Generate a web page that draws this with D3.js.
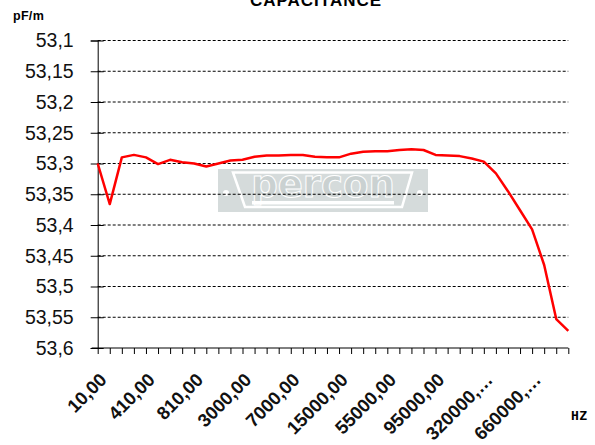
<!DOCTYPE html>
<html>
<head>
<meta charset="utf-8">
<script src="https://cdn.jsdelivr.net/npm/d3@7"></script>
<style>
  body { margin: 0; background: #fff; }
  svg { display: block; font-family: "Liberation Sans", Arial, sans-serif; }
</style>
</head>
<body>
<svg width="595" height="445"></svg>
<script>
// frequencies (Hz), one per point on the category axis
const freqs = [
  "10,00", "110,00", "210,00", "310,00", "410,00", "510,00", "610,00", "710,00",
  "810,00", "910,00", "1000,00", "2000,00", "3000,00", "4000,00", "5000,00", "6000,00",
  "7000,00", "8000,00", "9000,00", "10000,00", "15000,00", "25000,00", "35000,00", "45000,00",
  "55000,00", "65000,00", "75000,00", "85000,00", "95000,00", "100000,00", "120000,00", "220000,00",
  "320000,00", "420000,00", "520000,00", "620000,00", "660000,00", "760000,00", "860000,00", "1000000,00"
];
// capacitance pF/m
const capacitance = [
  53.300, 53.366, 53.290, 53.286, 53.290, 53.301, 53.294, 53.298,
  53.300, 53.305, 53.300, 53.295, 53.294, 53.289, 53.287, 53.287,
  53.286, 53.286, 53.289, 53.290, 53.290, 53.284, 53.281, 53.280,
  53.280, 53.278, 53.277, 53.278, 53.286, 53.287, 53.288, 53.292,
  53.297, 53.316, 53.345, 53.376, 53.407, 53.465, 53.553, 53.572
];
const yTicks = [53.1, 53.15, 53.2, 53.25, 53.3, 53.35, 53.4, 53.45, 53.5, 53.55, 53.6];

const plotLeft = 97.7, plotRight = 568.3, plotTop = 40.5, plotBottom = 348;
const svg = d3.select("svg");

const x = d3.scalePoint().domain(freqs).range([plotLeft, plotRight]);
const y = d3.scaleLinear().domain([53.1, 53.6]).range([plotTop, plotBottom]);

const fmt = v => String(+v.toFixed(2)).replace(".", ",");

// watermark logo behind the plot
const wm = svg.append("g");
wm.append("rect").attr("x", 218).attr("y", 169).attr("width", 210).attr("height", 43)
  .attr("fill", "#d5dbdb");
wm.append("path")
  .attr("d", "M233,172.5 L412,172.5 L402,207 L245,207 Z")
  .attr("fill", "none").attr("stroke", "#fff").attr("stroke-width", 2.5);
wm.append("circle").attr("cx", 226).attr("cy", 193).attr("r", 3).attr("fill", "#fff");
wm.append("circle").attr("cx", 420).attr("cy", 193).attr("r", 3).attr("fill", "#fff");
wm.append("text").attr("x", 323).attr("y", 197).attr("text-anchor", "middle")
  .attr("font-family", "DejaVu Sans, sans-serif")
  .attr("font-size", 37).attr("font-weight", "bold")
  .attr("fill", "#cad1d1").attr("stroke", "#fff").attr("stroke-width", 1)
  .text("percon");
wm.append("rect").attr("x", 252).attr("y", 201).attr("width", 142).attr("height", 3.5)
  .attr("fill", "#fff");

// gridlines
svg.append("g")
  .selectAll("line")
  .data(yTicks.slice(0, -1))
  .join("line")
  .attr("x1", plotLeft).attr("x2", plotRight)
  .attr("y1", d => y(d)).attr("y2", d => y(d))
  .attr("stroke", "#000").attr("stroke-width", 1).attr("stroke-dasharray", "3,2");

// y axis
const yAxis = svg.append("g")
  .attr("transform", `translate(${plotLeft},0)`)
  .call(d3.axisLeft(y).tickValues(yTicks).tickSize(7).tickPadding(17).tickFormat(fmt));
yAxis.select(".domain").attr("stroke", "#000");
yAxis.selectAll(".tick line").attr("x2", 6).attr("x1", -7).attr("stroke", "#000");
yAxis.selectAll("text").attr("font-size", 19.5).attr("fill", "#111")
  .attr("font-family", "Liberation Sans, Arial, sans-serif");

// x axis
const xAxis = svg.append("g")
  .attr("transform", `translate(0,${plotBottom})`)
  .call(d3.axisBottom(x).tickSize(6).tickFormat(""));
xAxis.select(".domain").attr("d", `M${plotLeft - 6},0H${plotRight}`).attr("stroke", "#000");
xAxis.selectAll(".tick line").attr("stroke", "#000");

// x labels, every fourth category, rotated
svg.append("g")
  .selectAll("text")
  .data(freqs.filter((d, i) => i % 4 === 0))
  .join("text")
  .attr("transform", d => `translate(${x(d) + 10},381) rotate(-45)`)
  .attr("text-anchor", "end")
  .attr("font-size", 18.5)
  .attr("font-weight", "bold")
  .attr("fill", "#111")
  .text(d => d.length > 8 ? d.slice(0, 7) + "…" : d);

// data line
svg.append("path")
  .datum(capacitance)
  .attr("fill", "none")
  .attr("stroke", "#ff0000")
  .attr("stroke-width", 2.5)
  .attr("stroke-linejoin", "round")
  .attr("d", d3.line().x((d, i) => x(freqs[i])).y(d => y(d)));

// titles
svg.append("text").attr("x", 316).attr("y", 5.5).attr("text-anchor", "middle")
  .attr("font-size", 17).attr("font-weight", "bold").attr("letter-spacing", 1)
  .text("CAPACITANCE");
svg.append("text").attr("x", 13).attr("y", 20)
  .attr("font-size", 12.5).attr("font-weight", "bold").attr("letter-spacing", 0.3)
  .text("pF/m");
svg.append("text").attr("x", 571).attr("y", 420)
  .attr("font-family", "DejaVu Sans Mono, monospace")
  .attr("font-size", 13).attr("font-weight", "bold").attr("letter-spacing", 0.5)
  .text("HZ");
</script>
</body>
</html>
